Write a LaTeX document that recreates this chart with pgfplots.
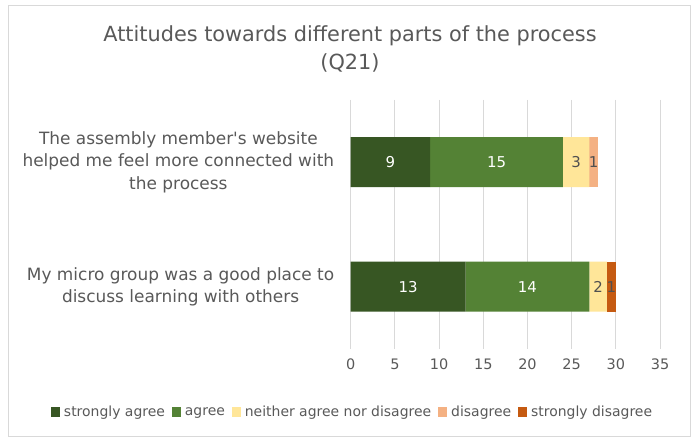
\documentclass[border=0pt]{standalone}
\usepackage{fontspec}
\setmainfont{DejaVu Sans}
\usepackage{pgfplots}
\pgfplotsset{compat=1.18}
\definecolor{sa}{HTML}{375623}
\definecolor{ag}{HTML}{548235}
\definecolor{ne}{HTML}{FFE699}
\definecolor{di}{HTML}{F4B183}
\definecolor{sd}{HTML}{C55A11}
\definecolor{tgray}{HTML}{595959}
\definecolor{ggray}{HTML}{D9D9D9}
\begin{document}
\begin{tikzpicture}[x=1bp,y=1bp]
\fill[white] (0,0) rectangle (696,441);
\draw[ggray, line width=1bp] (8,4) rectangle (690,435);
\node[font=\fontsize{20.9}{22}\selectfont, text=tgray] at (350,405) {Attitudes towards different parts of the process};
\node[font=\fontsize{20.9}{22}\selectfont, text=tgray] at (350,378) {(Q21)};
\begin{axis}[
 at={(350.7bp,92bp)}, anchor=south west, scale only axis, width=309.3bp, height=249bp,
 xbar stacked, bar width=50bp,
 xmin=0, xmax=35, ymin=-0.5, ymax=1.5, y dir=reverse,
 ytick={0,1},
 yticklabels={{The assembly member\textquotesingle s website\\helped me feel more connected with\\the process},{My micro group was a good place to\\discuss learning with others}},
 yticklabel style={align=center, font=\fontsize{17}{22.5}\selectfont, text=tgray, xshift=-13bp},
 xtick={0,5,...,35}, xmajorgrids, grid style={ggray, line width=1bp},
 axis line style={draw=none}, major tick style={draw=none},
 xticklabel style={font=\fontsize{14.5}{17}\selectfont, text=tgray, yshift=-6bp},
 /pgf/number format/assume math mode=true,
 legend style={at={(0.006,-0.253)}, anchor=center, draw=none, fill=none, legend columns=-1,
   font=\fontsize{14}{17}\selectfont, text=tgray,
   /tikz/every odd column/.append style={column sep=2bp},
   /tikz/every even column/.append style={column sep=5bp}},
 legend image code/.code={\fill[#1] (0bp,-5.5bp) rectangle (9bp,4.5bp);},
]
\addplot[fill=sa, draw=none] coordinates {(9,0) (13,1)};
\addplot[fill=ag, draw=none] coordinates {(15,0) (14,1)};
\addplot[fill=ne, draw=none] coordinates {(3,0) (2,1)};
\addplot[fill=di, draw=none] coordinates {(1,0) (0,1)};
\addplot[fill=sd, draw=none] coordinates {(0,0) (1,1)};
\legend{strongly agree, agree, neither agree nor disagree, disagree, strongly disagree}
\end{axis}
\begin{axis}[
 at={(350.7bp,92bp)}, anchor=south west, scale only axis, width=309.3bp, height=249bp,
 xmin=0, xmax=35, ymin=-0.5, ymax=1.5, y dir=reverse, hide axis,
]
\addplot[only marks, mark=none, nodes near coords, point meta=explicit symbolic,
  nodes near coords align=center,
  every node near coord/.style={text=white, font=\fontsize{15}{17}\selectfont}]
  coordinates {(4.5,0) [9] (16.5,0) [15] (6.5,1) [13] (20,1) [14]};
\addplot[only marks, mark=none, nodes near coords, point meta=explicit symbolic,
  nodes near coords align=center,
  every node near coord/.style={text=tgray!90!black, font=\fontsize{15}{17}\selectfont}]
  coordinates {(25.5,0) [3] (27.5,0) [1] (28,1) [2] (29.5,1) [1]};
\end{axis}
\end{tikzpicture}
\end{document}
